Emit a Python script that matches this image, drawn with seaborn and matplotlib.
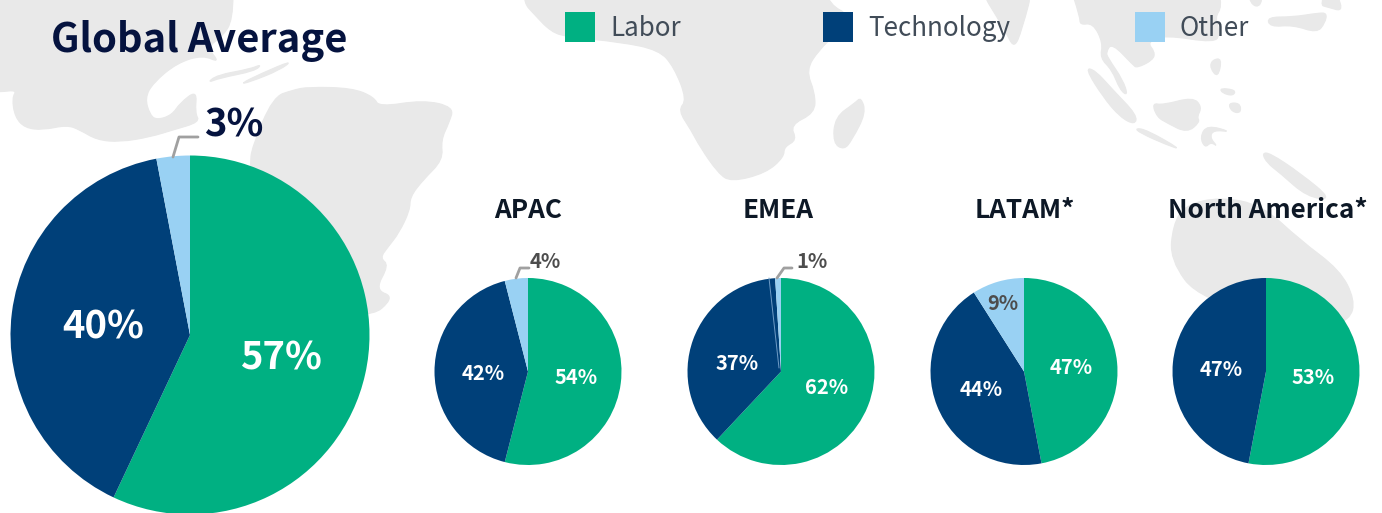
import matplotlib
matplotlib.use("Agg")
import matplotlib.pyplot as plt
from matplotlib.patches import PathPatch, Rectangle
from matplotlib.path import Path
import seaborn as sns

W, H = 1382, 513

series = ["Labor", "Technology", "Other"]
global_values = [57, 40, 3]
regions = ["APAC", "EMEA", "LATAM*", "North America*"]
labor = [54, 62, 47, 53]
technology = [42, 37, 44, 47]
other = [4, 1, 9, 0]

sns.set_theme(style="white")
plt.rcParams["font.family"] = ["Noto Sans CJK SC", "DejaVu Sans"]
colors = sns.color_palette(["#00B082", "#004079", "#99D1F3"])
MAP_C = "#E9E9E9"
NAVY = "#05133F"
DARK = "#0D1826"
GREY = "#4D4D4D"
LEADER = "#A0A0A0"

# rough world map behind the pies, in picture pixels
land = [
    # north america
    [(-30, -30), (233, -30), (233, 20), (222, 37), (207, 47), (220, 63), (203, 55), (177, 63), (153, 83), (145, 98),
     (150, 115), (157, 120), (172, 115), (180, 103), (197, 90), (195, 113), (200, 122), (173, 130), (150, 137),
     (120, 142), (97, 140), (80, 130), (67, 125), (43, 130), (25, 128), (15, 117), (12, 98), (17, 90), (0, 92),
     (-30, 92)],
    # caribbean
    [(207, 83), (217, 75), (250, 69), (262, 64), (255, 71), (220, 78)],
    [(240, 84), (260, 74), (293, 60), (280, 70), (250, 82)],
    # south america
    [(250, 165), (252, 147), (273, 97), (293, 90), (308, 87), (352, 88), (374, 97), (379, 107), (423, 100), (454, 107),
     (449, 123), (441, 140), (443, 160), (423, 180), (410, 197), (410, 210), (399, 233), (388, 247), (380, 258),
     (389, 265), (375, 290), (395, 297), (368, 320), (250, 300)],
    # africa
    [(524, -20), (524, 3), (533, 13), (551, 32), (568, 37), (620, 42), (659, 50), (674, 67), (687, 100), (678, 110),
     (691, 130), (700, 147), (718, 173), (731, 182), (766, 173), (784, 157), (784, 147), (797, 140), (790, 125),
     (815, 113), (815, 93), (806, 70), (819, 50), (835, 35), (850, 15), (830, 5), (822, -20)],
    # madagascar
    [(861, 97), (866, 113), (852, 140), (844, 150), (833, 143), (835, 117), (855, 103)],
    # india
    [(974, -20), (1005, 30), (1014, 49), (1022, 30), (1035, -20)],
    # indochina and china
    [(1068, -20), (1080, 17), (1080, 25), (1093, 23), (1103, 43), (1100, 58), (1112, 70), (1120, 90), (1128, 96),
     (1123, 80), (1108, 58), (1106, 52), (1112, 43), (1133, 65), (1137, 68), (1153, 60), (1155, 52), (1147, 42),
     (1165, 35), (1215, 43), (1220, 33), (1215, 17), (1222, 7), (1217, -20)],
    # sumatra
    [(1085, 68), (1095, 70), (1113, 90), (1137, 115), (1135, 125), (1120, 117), (1103, 97)],
    # java
    [(1135, 128), (1147, 130), (1182, 150), (1167, 145), (1140, 133)],
    # borneo
    [(1152, 103), (1163, 105), (1193, 97), (1202, 107), (1197, 117), (1200, 122), (1187, 133), (1167, 123),
     (1157, 117)],
    # sulawesi
    [(1207, 125), (1232, 132), (1213, 130), (1210, 138), (1218, 147), (1211, 142), (1205, 148), (1200, 137)],
    # philippines
    [(1212, 60), (1222, 58), (1218, 78), (1210, 68)],
    [(1228, 103), (1240, 103), (1241, 113), (1232, 112)],
    [(1220, 88), (1236, 90), (1233, 96), (1222, 93)],
    # japan and korea
    [(1267, 17), (1293, 17), (1318, 13), (1327, 13), (1325, 23), (1317, 33), (1293, 25), (1270, 27)],
    [(1320, 5), (1330, -20), (1345, 12), (1327, 7)],
    [(1247, -20), (1262, -20), (1262, 7), (1250, 5)],
    # new guinea
    [(1262, 153), (1270, 153), (1300, 173), (1333, 200), (1307, 197), (1280, 173), (1267, 163)],
    # australia
    [(1173, 225), (1185, 205), (1220, 197), (1262, 205), (1300, 240), (1340, 270), (1355, 300), (1350, 320),
     (1320, 330), (1200, 300), (1170, 260)],
]


def coast_path(points):
    # curve through the midpoints so the coast does not look like straight cuts
    mid = [((points[i][0] + points[(i + 1) % len(points)][0]) / 2,
            (points[i][1] + points[(i + 1) % len(points)][1]) / 2) for i in range(len(points))]
    verts = [mid[-1]]
    codes = [Path.MOVETO]
    for i in range(len(points)):
        verts += [points[i], mid[i]]
        codes += [Path.CURVE3, Path.CURVE3]
    return Path(verts, codes)


def draw_pie(values, cx, cy, r):
    # pie gets its own axes so it can run past the bottom edge of the figure
    ax = fig.add_axes([(cx - r) / W, (H - cy - r) / H, 2 * r / W, 2 * r / H])
    ax.patch.set_alpha(0)
    wedges, _ = ax.pie(values, colors=colors, startangle=90, counterclock=False, radius=1,
                       wedgeprops={"linewidth": 0})
    ax.set_xlim(-1, 1)
    ax.set_ylim(-1, 1)
    for w in wedges:
        w.set_clip_on(False)
    return ax


fig = plt.figure(figsize=(W / 100, H / 100), dpi=100)

bg = fig.add_axes([0, 0, 1, 1])
bg.set_xlim(0, W)
bg.set_ylim(H, 0)
bg.axis("off")
for shape in land:
    bg.add_patch(PathPatch(coast_path(shape), fc=MAP_C, ec=MAP_C, lw=0.8))

draw_pie(global_values, 190, 335, 179.5)
centers = [528, 781, 1024, 1266]
for i in range(len(regions)):
    draw_pie([labor[i], technology[i], other[i]], centers[i], 371.5, 93.5)

# text and leaders go on a top layer, same pixel coordinates as the map
top = fig.add_axes([0, 0, 1, 1])
top.set_xlim(0, W)
top.set_ylim(H, 0)
top.axis("off")
top.patch.set_alpha(0)

top.text(51, 40.5, "Global Average", fontsize=28.7, fontweight="bold", color=NAVY, va="center", ha="left")
top.text(233.5, 125, f"{global_values[2]}%", fontsize=27.5, fontweight="bold", color=NAVY, va="center", ha="center")
top.text(280.5, 358, f"{global_values[0]}%", fontsize=27.5, fontweight="bold", color="white", va="center", ha="center")
top.text(103.5, 327, f"{global_values[1]}%", fontsize=27.5, fontweight="bold", color="white", va="center", ha="center")
top.plot([173, 179, 198], [157, 137, 137], color=LEADER, lw=2, solid_joinstyle="round")

sq_x = [565, 823, 1135]
txt_x = [610, 868, 1180]
for i in range(3):
    top.add_patch(Rectangle((sq_x[i], 12), 30, 30, fc=colors[i], ec="none", lw=0))
    top.text(txt_x[i], 28, series[i], fontsize=18.7, fontweight="light", color="#414C58", va="center", ha="left")

title_x = [528.5, 778.5, 1025, 1268]
for i in range(len(regions)):
    top.text(title_x[i], 211, regions[i], fontsize=18.8, fontweight="bold", color=DARK, va="center", ha="center")

label_pos = [((576, 378), (483, 374)), ((827, 388), (737, 363)), ((1071, 368), (981, 390)), ((1313, 378), (1221, 369))]
for i in range(len(regions)):
    top.text(*label_pos[i][0], f"{labor[i]}%", fontsize=14.5, fontweight="bold", color="white", va="center", ha="center")
    top.text(*label_pos[i][1], f"{technology[i]}%", fontsize=14.5, fontweight="bold", color="white", va="center", ha="center")

top.text(545.5, 262, f"{other[0]}%", fontsize=14.5, fontweight="bold", color=GREY, va="center", ha="center")
top.text(812, 262, f"{other[1]}%", fontsize=14.5, fontweight="bold", color=GREY, va="center", ha="center")
top.text(1003, 304, f"{other[2]}%", fontsize=14.5, fontweight="bold", color=GREY, va="center", ha="center")
top.plot([516, 520, 529], [278, 268, 268], color=LEADER, lw=2)
top.plot([777, 784, 792], [278, 268, 268], color=LEADER, lw=2)
# hairline inside the EMEA technology slice
top.plot([769, 779], [278, 368], color="#6F9CC6", lw=0.7)

plt.savefig("out.png", dpi=100)
